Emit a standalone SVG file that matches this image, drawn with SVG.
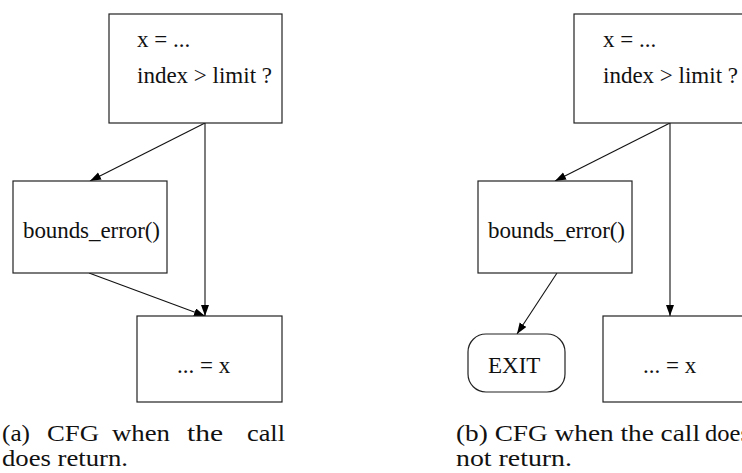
<svg xmlns="http://www.w3.org/2000/svg" width="742" height="473" viewBox="0 0 742 473">
<style>
.box{fill:#fff;stroke:#222;stroke-width:1.2}
.lbl{font-family:"Liberation Serif","Times New Roman",serif;font-size:23px;fill:#111}
.cap{font-family:"Liberation Serif","Times New Roman",serif;font-size:24px;fill:#111}
.edge{stroke:#111;stroke-width:1.1;fill:none;marker-end:url(#arr)}
</style>
<defs>
<marker id="arr" markerUnits="userSpaceOnUse" markerWidth="12" markerHeight="9" refX="11" refY="4" orient="auto">
<path d="M0,0 L11,4 L0,8 z" fill="#000"/>
</marker>
</defs>
<rect width="742" height="473" fill="#fff"/>
<g id="edges">
<line class="edge" x1="205" y1="123" x2="90" y2="181"/>
<line class="edge" x1="205" y1="123" x2="205" y2="316"/>
<line class="edge" x1="89" y1="273" x2="205" y2="316"/>
<line class="edge" x1="670" y1="123" x2="555" y2="181"/>
<line class="edge" x1="670" y1="123" x2="670" y2="316"/>
<line class="edge" x1="557" y1="273" x2="517" y2="334"/>
</g>
<g id="a_top"><rect class="box" x="109" y="14" width="173" height="109"/>
<text class="lbl" x="137" y="47">x = ...</text>
<text class="lbl" x="137" y="83">index &gt; limit ?</text></g>
<g id="a_err"><rect class="box" x="13" y="181" width="154" height="92"/>
<text class="lbl" x="23" y="238" textLength="137">bounds_error()</text></g>
<g id="a_use"><rect class="box" x="137" y="316" width="145" height="86"/>
<text class="lbl" x="177" y="373">... = x</text></g>
<g id="b_top"><rect class="box" x="574" y="14" width="173" height="109"/>
<text class="lbl" x="603" y="47">x = ...</text>
<text class="lbl" x="603" y="83">index &gt; limit ?</text></g>
<g id="b_err"><rect class="box" x="478" y="181" width="154" height="92"/>
<text class="lbl" x="488" y="238" textLength="137">bounds_error()</text></g>
<g id="b_exit"><rect class="box" x="468" y="334" width="97" height="58" rx="18" ry="18"/>
<text class="lbl" x="488" y="373">EXIT</text></g>
<g id="b_use"><rect class="box" x="603" y="316" width="145" height="86"/>
<text class="lbl" x="643" y="373">... = x</text></g>
<g id="caption_a">
<text class="cap" x="2" y="441" textLength="28" lengthAdjust="spacingAndGlyphs">(a)</text>
<text class="cap" x="47" y="441" textLength="52" lengthAdjust="spacingAndGlyphs">CFG</text>
<text class="cap" x="112" y="441" textLength="58" lengthAdjust="spacingAndGlyphs">when</text>
<text class="cap" x="187" y="441" textLength="36" lengthAdjust="spacingAndGlyphs">the</text>
<text class="cap" x="247" y="441" textLength="38" lengthAdjust="spacingAndGlyphs">call</text>
<text class="cap" x="2" y="466" textLength="126" lengthAdjust="spacingAndGlyphs">does return.</text>
</g>
<g id="caption_b">
<text class="cap" x="456" y="441" textLength="244" lengthAdjust="spacingAndGlyphs">(b) CFG when the call</text>
<text class="cap" x="705" y="441" textLength="45" lengthAdjust="spacingAndGlyphs">does</text>
<text class="cap" x="456" y="466" textLength="116" lengthAdjust="spacingAndGlyphs">not return.</text>
</g>
</svg>
